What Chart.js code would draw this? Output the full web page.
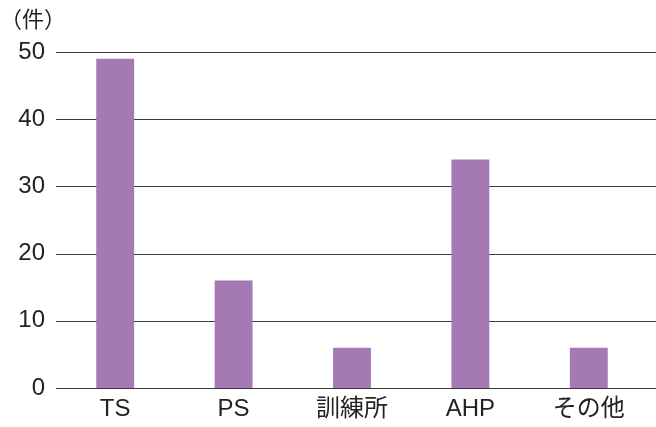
<!DOCTYPE html>
<html>
<head>
<meta charset="utf-8">
<script src="https://cdn.jsdelivr.net/npm/chart.js@4/dist/chart.umd.min.js"></script>
<style>
html,body{margin:0;padding:0;background:#fff;}
#wrap{width:656px;height:427px;}
</style>
</head>
<body>
<div id="wrap"><canvas id="c" width="656" height="427"></canvas></div>
<script>
const categories = ['TS', 'PS', '訓練所', 'AHP', 'その他'];
const counts = [49, 16, 6, 34, 6];
const yTicks = [0, 10, 20, 30, 40, 50];
const unitLabel = '（件）';

const FONT = "'Liberation Sans', Arial, 'Noto Sans CJK JP', sans-serif";

const gridPlugin = {
  id: 'extGrid',
  beforeDatasetsDraw(chart) {
    const ctx = chart.ctx;
    const y = chart.scales.y;
    const left = chart.chartArea.left;
    ctx.save();
    ctx.strokeStyle = '#3a3a3a';
    ctx.lineWidth = 1;
    yTicks.forEach(v => {
      const py = Math.round(y.getPixelForValue(v)) + 0.5;
      ctx.beginPath();
      ctx.moveTo(left, py);
      ctx.lineTo(chart.width, py);
      ctx.stroke();
    });
    ctx.restore();
  }
};

new Chart(document.getElementById('c'), {
  type: 'bar',
  data: {
    labels: categories,
    datasets: [{
      data: counts,
      backgroundColor: '#a57ab4',
      borderWidth: 0,
      barPercentage: 0.32,
      categoryPercentage: 1.0
    }]
  },
  plugins: [gridPlugin],
  options: {
    responsive: false,
    animation: false,
    devicePixelRatio: 1,
    layout: { padding: { left: 0, right: 8, top: 0, bottom: 0 } },
    plugins: {
      legend: { display: false },
      tooltip: { enabled: false },
      title: {
        display: true,
        text: unitLabel,
        align: 'start',
        color: '#222',
        font: { family: FONT, size: 22, weight: 'normal' },
        padding: { top: 8, bottom: 17.6 }
      }
    },
    scales: {
      x: {
        afterFit(scale) { scale.height = 39; },
        grid: { display: false, drawTicks: false },
        border: { display: false },
        ticks: {
          color: '#222',
          padding: 7,
          font: { family: FONT, size: 24 }
        }
      },
      y: {
        min: 0,
        max: 50,
        afterBuildTicks(scale) { scale.ticks = yTicks.map(v => ({ value: v })); },
        afterFit(scale) { scale.width = 56; },
        grid: { display: false, drawTicks: false },
        border: { display: false },
        ticks: {
          color: '#222',
          padding: 11,
          font: { family: FONT, size: 24 }
        }
      }
    }
  }
});
</script>
</body>
</html>
